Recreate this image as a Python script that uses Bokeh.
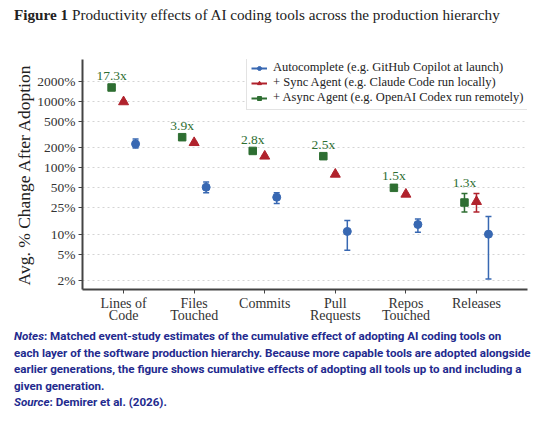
import pandas as pd
from bokeh.plotting import figure
from bokeh.models import (ColumnDataSource, Range1d, FixedTicker, PrintfTickFormatter,
                          Whisker, TeeHead, Legend, LegendItem, Div)
from bokeh.layouts import column
from bokeh.transform import dodge
from bokeh.core.properties import value
from bokeh.embed import file_html
from bokeh.resources import INLINE

# ---------------- data ----------------
categories = ["Lines of\nCode", "Files\nTouched", "Commits", "Pull\nRequests", "Repos\nTouched", "Releases"]

auto_pct = [230, 51, 36, 11, 14, 10]
auto_lo = [200, 42, 29, 5.7, 10.7, 2.1]
auto_hi = [272, 61, 42, 16, 17, 18.5]

sync_pct = [990, 240, 150, 80, 40, 31]
sync_lo = [960, 233, 146, 78, 39, 21.6]
sync_hi = [1020, 247, 154, 82, 41, 41]

async_pct = [1630, 290, 180, 150, 50, 30]
async_lo = [1580, 282, 175, 146, 48.5, 21.6]
async_hi = [1680, 298, 185, 154, 51.5, 41]

y_ticks = [2, 5, 10, 25, 50, 100, 200, 500, 1000, 2000]

labels = ["Autocomplete (e.g. GitHub Copilot at launch)",
          "+ Sync Agent (e.g. Claude Code run locally)",
          "+ Async Agent (e.g. OpenAI Codex run remotely)"]

BLUE = "#3868b2"
RED = "#b0222c"
GREEN = "#2e6e32"
SERIF = "Liberation Serif"

df = pd.DataFrame(dict(
    xi=list(range(1, len(categories) + 1)),
    auto=auto_pct, auto_lo=auto_lo, auto_hi=auto_hi,
    sync=sync_pct, sync_lo=sync_lo, sync_hi=sync_hi,
    asy=async_pct, asy_lo=async_lo, asy_hi=async_hi,
))
df["mult"] = [f"{1 + v / 100:.1f}x" for v in async_pct]
src = ColumnDataSource(df)

OFF = 0.17

p = figure(width=542, height=290, output_backend="svg", toolbar_location=None,
           y_axis_type="log",
           x_range=Range1d(0.418, len(categories) + 0.723),
           y_range=Range1d(1.463, 4309),
           min_border_left=82, min_border_right=15, min_border_top=24, min_border_bottom=36)
p.frame_width = 445
p.frame_height = 230
p.outline_line_color = None
p.background_fill_color = "white"
p.border_fill_color = "white"

# axes
p.xaxis.ticker = FixedTicker(ticks=list(range(1, len(categories) + 1)))
p.xaxis.major_label_overrides = {i + 1: c for i, c in enumerate(categories)}
p.yaxis.ticker = FixedTicker(ticks=y_ticks)
p.yaxis.formatter = PrintfTickFormatter(format="%d%%")
for ax in (p.xaxis[0], p.yaxis[0]):
    ax.axis_line_color = "#444444"
    ax.axis_line_width = 2
    ax.major_tick_line_color = "#444444"
    ax.major_tick_line_width = 1
    ax.major_tick_in = 0
    ax.major_tick_out = 4
    ax.minor_tick_line_color = None
    ax.major_label_text_font = SERIF
    ax.major_label_text_color = "#333333"
    ax.major_label_standoff = 3
p.xaxis.major_label_text_font_size = "14px"
p.xaxis.major_label_text_line_height = 0.85
p.xaxis.major_label_standoff = 2
p.yaxis.major_label_text_font_size = "13.5px"
p.yaxis.axis_label = "Avg. % Change After Adoption"
p.yaxis.axis_label_text_font = SERIF
p.yaxis.axis_label_text_font_size = "17.5px"
p.yaxis.axis_label_text_font_style = "normal"
p.yaxis.axis_label_text_color = "#222222"
p.yaxis.axis_label_standoff = 0

p.xgrid.visible = False
p.ygrid.grid_line_color = "#d4d4d4"
p.ygrid.grid_line_dash = "2 3"
p.ygrid.grid_line_width = 1

# error bars
def add_whisker(off, lo, hi, color):
    w = Whisker(source=src, base=dodge("xi", off), lower=lo, upper=hi,
                line_color=color, line_width=1.5,
                lower_head=TeeHead(size=6, line_color=color, line_width=1.5),
                upper_head=TeeHead(size=6, line_color=color, line_width=1.5))
    p.add_layout(w)

add_whisker(OFF, "auto_lo", "auto_hi", BLUE)
add_whisker(0, "sync_lo", "sync_hi", RED)
add_whisker(-OFF, "asy_lo", "asy_hi", GREEN)

# markers
r_auto = p.scatter(x=dodge("xi", OFF), y="auto", source=src, marker="circle", size=8,
                   fill_color=BLUE, line_color=BLUE)
r_sync = p.scatter(x=dodge("xi", 0), y="sync", source=src, marker="triangle", size=10,
                   fill_color=RED, line_color=RED)
r_asy = p.scatter(x=dodge("xi", -OFF), y="asy", source=src, marker="square", size=7.5,
                  fill_color=GREEN, line_color=GREEN)

# multiplier labels sit just above the async agent's upper bound
p.text(x=dodge("xi", -OFF), y="asy_hi", text="mult", source=src, y_offset=-11,
       text_align="center", text_baseline="middle",
       text_font=value(SERIF), text_font_size="13.5px", text_color=GREEN)

# legend line stubs (not visible in plot)
nan = float("nan")
l_auto = p.line(x=[nan], y=[nan], line_color=BLUE, line_width=2)
l_sync = p.line(x=[nan], y=[nan], line_color=RED, line_width=2)
l_asy = p.line(x=[nan], y=[nan], line_color=GREEN, line_width=2)

legend = Legend(items=[
    LegendItem(label=labels[0], renderers=[l_auto, r_auto], index=0),
    LegendItem(label=labels[1], renderers=[l_sync, r_sync], index=0),
    LegendItem(label=labels[2], renderers=[l_asy, r_asy], index=0),
], location=(164, 179))
legend.label_text_font = SERIF
legend.label_text_font_size = "12.5px"
legend.label_text_color = "#222222"
legend.glyph_width = 16
legend.glyph_height = 10
legend.label_height = 10
legend.label_standoff = 6
legend.spacing = 0
legend.padding = 4
legend.margin = 0
legend.border_line_color = "#c8c8c8"
legend.border_line_width = 1
legend.background_fill_color = "white"
legend.background_fill_alpha = 1
p.add_layout(legend, "center")

title = Div(text='<b>Figure 1</b> Productivity effects of AI coding tools across the production hierarchy',
            width=542, height=35, margin=(0, 0, 0, 0),
            styles={"font-family": "Liberation Serif", "font-size": "15.2px", "color": "#222222",
                    "padding-left": "14px", "padding-top": "6px", "line-height": "18px",
                    "white-space": "nowrap"})

notes_html = ('<i>Notes</i>: Matched event-study estimates of the cumulative effect of adopting AI coding tools on<br>'
              'each layer of the software production hierarchy. Because more capable tools are adopted alongside<br>'
              'earlier generations, the figure shows cumulative effects of adopting all tools up to and including a<br>'
              'given generation.<br>'
              '<i>Source</i>: Demirer et al. (2026).')
notes = Div(text=notes_html, width=542, height=99, margin=(0, 0, 0, 0),
            styles={"font-family": "Roboto", "font-weight": "bold", "font-size": "11.6px",
                    "color": "#232a8e", "padding-left": "14px", "padding-top": "2px",
                    "line-height": "16.6px", "white-space": "nowrap"})

p.margin = (0, 0, 0, 0)
layout = column(title, p, notes, spacing=0, margin=(0, 0, 0, 0))

open("out.html", "w").write(file_html(layout, INLINE))
